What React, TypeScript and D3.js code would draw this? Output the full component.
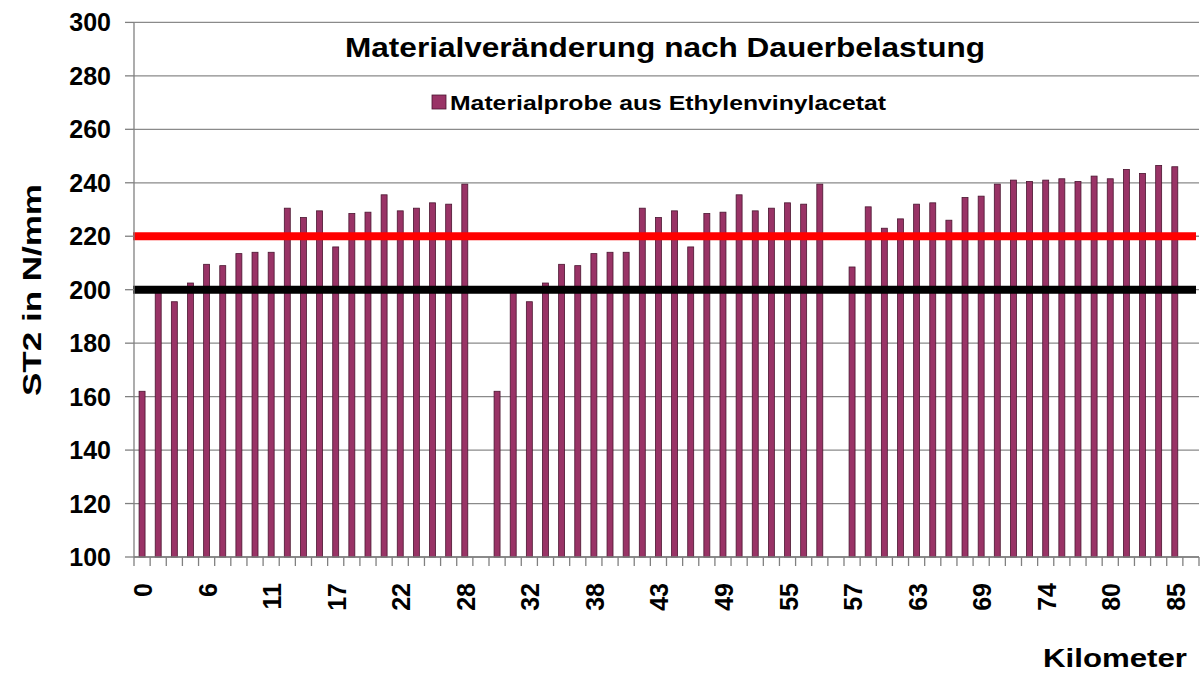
import React from "react";
import * as d3 from "d3";

const title = "Materialveränderung nach Dauerbelastung";
const legendLabel = "Materialprobe aus Ethylenvinylacetat";
const yLabel = "ST2 in N/mm";
const xLabel = "Kilometer";

// three measurement runs, separated by an empty slot
const runA = [162, 199, 195.5, 202.5, 209.5, 209, 213.5, 214, 214, 230.5, 227, 229.5, 216, 228.5, 229, 235.5, 229.5, 230.5, 232.5, 232, 239.5];
const runB = [162, 199, 195.5, 202.5, 209.5, 209, 213.5, 214, 214, 230.5, 227, 229.5, 216, 228.5, 229, 235.5, 229.5, 230.5, 232.5, 232, 239.5];
const runC = [208.5, 231, 223, 226.5, 232, 232.5, 226, 234.5, 235, 239.5, 241, 240.5, 241, 241.5, 240.5, 242.5, 241.5, 245, 243.5, 246.5, 246];

// tick labels shown on every fourth slot
const kmLabels = ["0", "6", "11", "17", "22", "28", "32", "38", "43", "49", "55", "57", "63", "69", "74", "80", "85"];
const labelEvery = 4;

const yTicks = [100, 120, 140, 160, 180, 200, 220, 240, 260, 280, 300];
const refLines = [
  { value: 200, color: "#000000" },
  { value: 220, color: "#ff0000" },
];

const slots: (number | null)[] = [...runA, null, ...runB, null, ...runC, null];

const W = 1200;
const H = 677;
const left = 134;
const right = 1199;
const top = 22.4;
const bottom = 557;
const FONT = "'Liberation Sans', Arial, Helvetica, sans-serif";

export default function App() {
  const idx = slots.map((_, i) => i);
  const x = d3.scaleBand<number>().domain(idx).range([left, right]).paddingInner(0.63).paddingOuter(0.315);
  const step = x.step();
  const y = d3.scaleLinear().domain([100, 300]).range([bottom, top]);

  const edges = d3.range(slots.length + 1).map((i) => left + i * step);

  return (
    <svg width={W} height={H} style={{ position: "absolute", left: 0, top: 0, background: "#fff" }} fontFamily={FONT}>
      <rect x={0} y={0} width={W} height={H} fill="#fff" />
      {/* gridlines */}
      {yTicks.map((t) => (
        <line key={"g" + t} x1={left} x2={right} y1={y(t)} y2={y(t)} stroke="#8a8a8a" strokeWidth={1.3} />
      ))}
      {/* bars */}
      {slots.map((v, i) =>
        v == null ? null : (
          <rect
            key={"b" + i}
            x={x(i)!}
            y={y(v)}
            width={x.bandwidth()}
            height={y(100) - y(v)}
            fill="#993366"
            stroke="#4a1530"
            strokeWidth={0.8}
          />
        )
      )}
      {/* reference lines */}
      {refLines.map((r) => (
        <line key={"r" + r.value} x1={left - 1} x2={1196} y1={y(r.value)} y2={y(r.value)} stroke={r.color} strokeWidth={8} />
      ))}
      {/* axes */}
      <line x1={left} x2={left} y1={top} y2={bottom} stroke="#808080" strokeWidth={1.3} />
      <line x1={left} x2={right} y1={bottom} y2={bottom} stroke="#808080" strokeWidth={1.3} />
      {yTicks.map((t) => (
        <g key={"yt" + t}>
          <line x1={left - 9} x2={left} y1={y(t)} y2={y(t)} stroke="#808080" strokeWidth={1.3} />
          <text x={111} y={y(t)} dy="0.36em" textAnchor="end" fontSize={25} fontWeight="bold" fill="#000">
            {t}
          </text>
        </g>
      ))}
      {edges.map((e, i) => (
        <line key={"xt" + i} x1={e} x2={e} y1={bottom} y2={bottom + 9} stroke="#808080" strokeWidth={1.3} />
      ))}
      {kmLabels.map((lab, k) => {
        const i = k * labelEvery;
        const cx = x(i)! + x.bandwidth() / 2 + 1;
        return (
          <text
            key={"xl" + k}
            transform={`translate(${cx},583) rotate(-90)`}
            dy="0.36em"
            textAnchor="end"
            fontSize={25}
            fontWeight="bold"
            fill="#000"
          >
            {lab}
          </text>
        );
      })}
      {/* title */}
      <text x={665} y={57} textAnchor="middle" fontSize={27} fontWeight="bold" textLength={640} lengthAdjust="spacingAndGlyphs" fill="#000">
        {title}
      </text>
      {/* legend */}
      <rect x={432} y={95} width={14} height={14} fill="#993366" stroke="#4a1530" strokeWidth={0.8} />
      <text x={450} y={109.5} fontSize={21} fontWeight="bold" textLength={436} lengthAdjust="spacingAndGlyphs" fill="#000">
        {legendLabel}
      </text>
      {/* axis titles */}
      <text transform="translate(41,290) rotate(-90)" textAnchor="middle" fontSize={26} fontWeight="bold" textLength={212} lengthAdjust="spacingAndGlyphs" fill="#000">
        {yLabel}
      </text>
      <text x={1043} y={667} fontSize={26} fontWeight="bold" textLength={144} lengthAdjust="spacingAndGlyphs" fill="#000">
        {xLabel}
      </text>
    </svg>
  );
}
